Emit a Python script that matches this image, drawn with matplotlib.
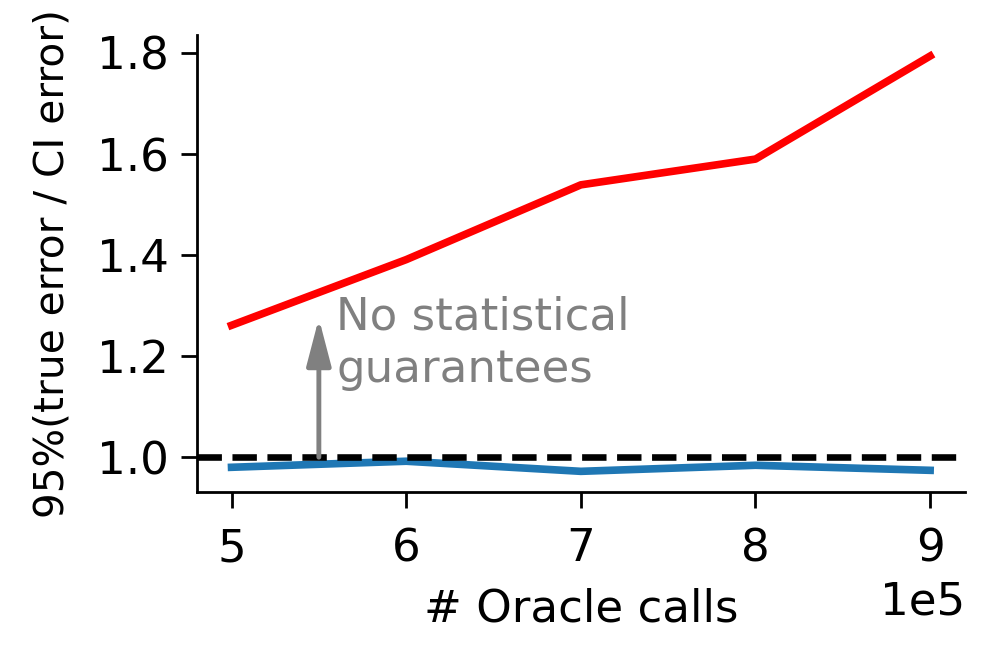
import matplotlib
matplotlib.use("Agg")
import matplotlib.pyplot as plt

# Data
oracle_calls = [5e5, 6e5, 7e5, 8e5, 9e5]
no_guarantee = [1.261, 1.391, 1.539, 1.590, 1.794]
with_ci = [0.980, 0.992, 0.972, 0.984, 0.974]

plt.rcParams['font.size'] = 13
plt.rcParams['xtick.major.size'] = 4.6
plt.rcParams['ytick.major.size'] = 4.6
plt.rcParams['xtick.major.pad'] = 5.5

fig = plt.figure(figsize=(3.992, 2.66), dpi=250)
ax = fig.add_axes([0.197, 0.26, 0.770, 0.687])

ax.plot(oracle_calls, no_guarantee, color='red', linewidth=2.2)
ax.plot(oracle_calls, with_ci, color='tab:blue', linewidth=2.2)
ax.axhline(1.0, color='black', linestyle='--', linewidth=1.9)

# Annotation arrow and text
ax.annotate('', xy=(5.5e5, 1.275), xytext=(5.5e5, 1.0),
            arrowprops=dict(arrowstyle='-|>,head_length=1.15,head_width=0.3',
                            color='gray', lw=1.4, mutation_scale=10,
                            shrinkA=0, shrinkB=0))
ax.text(5.6e5, 1.32, 'No statistical\nguarantees', color='gray',
        ha='left', va='top', linespacing=1.27)

ax.set_xlabel('# Oracle calls', labelpad=5)
ax.set_ylabel('95%(true error / CI error)', fontsize=11.7, labelpad=7)
ax.set_yticks([1.0, 1.2, 1.4, 1.6, 1.8])
ax.ticklabel_format(axis='x', style='sci', scilimits=(0, 0))
ax.spines['top'].set_visible(False)
ax.spines['right'].set_visible(False)

fig.savefig('out.png', dpi=250)
